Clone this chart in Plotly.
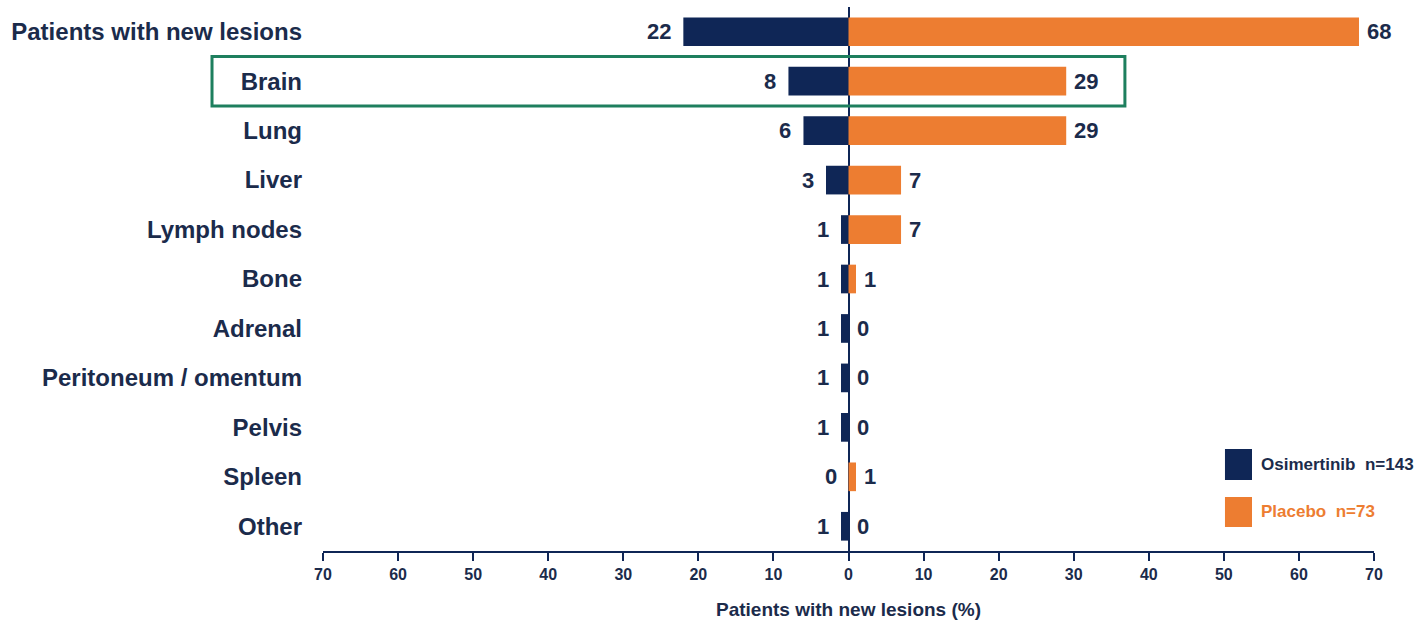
import plotly.graph_objects as go

# Sites of new lesions and percentage of patients in each arm
sites = ["Patients with new lesions", "Brain", "Lung", "Liver", "Lymph nodes", "Bone",
         "Adrenal", "Peritoneum / omentum", "Pelvis", "Spleen", "Other"]
osimertinib = [22, 8, 6, 3, 1, 1, 1, 1, 1, 0, 1]
placebo = [68, 29, 29, 7, 7, 1, 0, 0, 0, 1, 0]

tick_values = [-70, -60, -50, -40, -30, -20, -10, 0, 10, 20, 30, 40, 50, 60, 70]
tick_labels = [str(abs(v)) for v in tick_values]

legend_labels = ["Osimertinib  n=143", "Placebo  n=73"]

NAVY = "#0F2656"
TEXT = "#1B2B4B"
ORANGE = "#ED7D31"
GREEN = "#1E7F5E"
FONT = "Liberation Sans"

fig = go.Figure()
fig.add_trace(go.Bar(y=sites, x=[-v for v in osimertinib], orientation="h",
                     marker=dict(color=NAVY, line=dict(width=0)), width=0.58,
                     name=legend_labels[0], showlegend=False, hoverinfo="skip"))
fig.add_trace(go.Bar(y=sites, x=placebo, orientation="h",
                     marker=dict(color=ORANGE, line=dict(width=0)), width=0.58,
                     name=legend_labels[1], showlegend=False, hoverinfo="skip"))

# Value labels beside each bar
for s, v in zip(sites, osimertinib):
    fig.add_annotation(x=-v, y=s, text=f"<b>{v}</b>", showarrow=False, xanchor="right",
                       xshift=-10, font=dict(family=FONT, size=22, color=TEXT))
for s, v in zip(sites, placebo):
    fig.add_annotation(x=v, y=s, text=f"<b>{v}</b>", showarrow=False, xanchor="left",
                       xshift=6, font=dict(family=FONT, size=22, color=TEXT))

# Highlight box around the brain row
fig.add_shape(type="rect", xref="paper", yref="y", x0=-0.1056, x1=0.763,
              y0=0.5, y1=1.5, line=dict(color=GREEN, width=3), fillcolor="rgba(0,0,0,0)")

# Legend drawn as swatches with coloured text
legend_colors = [NAVY, ORANGE]
legend_text_colors = [TEXT, ORANGE]
legend_y = [(0.1875, 0.1305), (0.0993, 0.0441)]
for lab, col, tcol, (ya, yb) in zip(legend_labels, legend_colors, legend_text_colors, legend_y):
    fig.add_shape(type="rect", xref="paper", yref="paper", x0=0.8582, x1=0.8839,
                  y0=yb, y1=ya, line=dict(width=0), fillcolor=col)
    fig.add_annotation(xref="paper", yref="paper", x=0.891, y=(ya + yb) / 2,
                       text=f"<b>{lab}</b>", showarrow=False, xanchor="left", yanchor="middle",
                       font=dict(family=FONT, size=17, color=tcol))

fig.update_layout(
    width=1425, height=624,
    margin=dict(l=323, r=51, t=7, b=73),
    paper_bgcolor="white", plot_bgcolor="white",
    barmode="overlay", bargap=0.42,
    font=dict(family=FONT, color=TEXT),
)
fig.update_xaxes(
    range=[-70, 70], tickvals=tick_values, ticktext=[f"<b>{t}</b>" for t in tick_labels],
    showgrid=False, zeroline=True, zerolinecolor=NAVY, zerolinewidth=2,
    showline=True, linecolor=NAVY, linewidth=2,
    ticks="outside", ticklen=8, tickwidth=2, tickcolor=NAVY,
    tickfont=dict(family=FONT, size=16, color=TEXT),
    title=dict(text="<b>Patients with new lesions (%)</b>", standoff=20,
               font=dict(family=FONT, size=19, color=TEXT)),
)
fig.update_yaxes(
    autorange="reversed", showgrid=False, showline=False, ticks="",
    ticklabelstandoff=20,
    tickfont=dict(family=FONT, size=24, color=TEXT),
    tickmode="array", tickvals=sites, ticktext=[f"<b>{s}</b>" for s in sites],
)

fig.write_html("out.html")
